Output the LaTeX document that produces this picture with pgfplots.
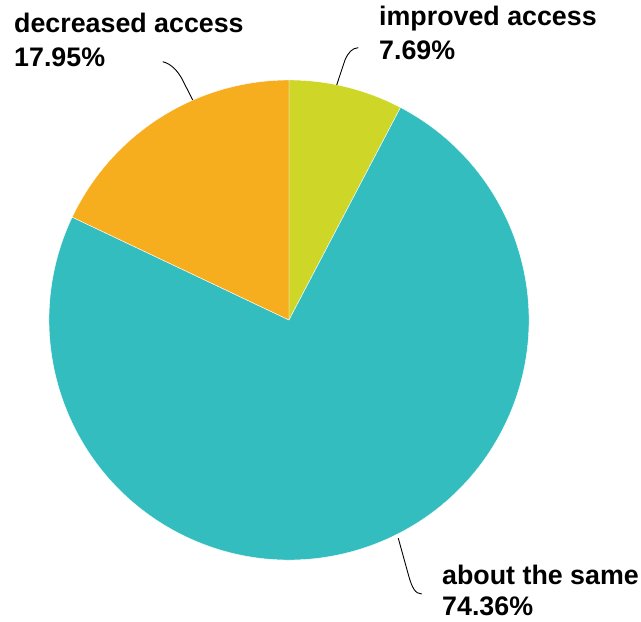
\documentclass[border=0pt]{standalone}
\usepackage{pgfplots}
\pgfplotsset{compat=1.18}
\usepackage{fontspec}
\setmainfont{Liberation Sans}
\definecolor{cimp}{HTML}{CED628}
\definecolor{csame}{HTML}{33BDBF}
\definecolor{cdec}{HTML}{F6AE1F}
\begin{document}
\begin{tikzpicture}
% values (percent)
\def\vimp{7.69}
\def\vsame{74.36}
\def\vdec{17.95}
\pgfmathsetmacro\aA{90}
\pgfmathsetmacro\aB{90-\vimp*3.6}
\pgfmathsetmacro\aC{\aB-\vsame*3.6}
\pgfmathsetmacro\aD{\aC-\vdec*3.6}
\begin{axis}[hide axis, scale only axis, width=641bp, height=622bp,
  xmin=0, xmax=641, ymin=0, ymax=622, clip=false]
\path (axis cs:0,0) rectangle (axis cs:641,622);
\filldraw[fill=cimp, draw=white, line width=0.4pt] (axis cs:289,302) -- ++(\aA:240bp) arc[start angle=\aA, end angle=\aB, radius=240bp] -- cycle;
\filldraw[fill=csame, draw=white, line width=0.4pt] (axis cs:289,302) -- ++(\aB:240bp) arc[start angle=\aB, end angle=\aC, radius=240bp] -- cycle;
\filldraw[fill=cdec, draw=white, line width=0.4pt] (axis cs:289,302) -- ++(\aC:240bp) arc[start angle=\aC, end angle=\aD, radius=240bp] -- cycle;
% leader lines
\draw[black, line width=0.9pt] (axis cs:162.7,560.3) .. controls (axis cs:172,558) and (axis cs:178,550) .. (axis cs:181.7,543.7) -- (axis cs:192.7,522);
\draw[black, line width=0.9pt] (axis cs:336.7,537) -- (axis cs:345,562) .. controls (axis cs:348,569) and (axis cs:352,574) .. (axis cs:358.3,574.3);
\draw[black, line width=0.9pt] (axis cs:398.3,83.7) -- (axis cs:409,45) .. controls (axis cs:412,35) and (axis cs:415,28) .. (axis cs:421.7,28);
% labels
\begin{scope}[every node/.style={anchor=base west, inner sep=0pt, font=\fontsize{26.8bp}{30bp}\selectfont\bfseries}]
\node at (axis cs:14,589) {decreased access};
\node at (axis cs:14,555) {17.95\%};
\node at (axis cs:379,596) {improved access};
\node at (axis cs:379,562) {7.69\%};
\node at (axis cs:442,37) {about the same};
\node at (axis cs:442,7) {74.36\%};
\end{scope}
\end{axis}
\end{tikzpicture}
\end{document}
